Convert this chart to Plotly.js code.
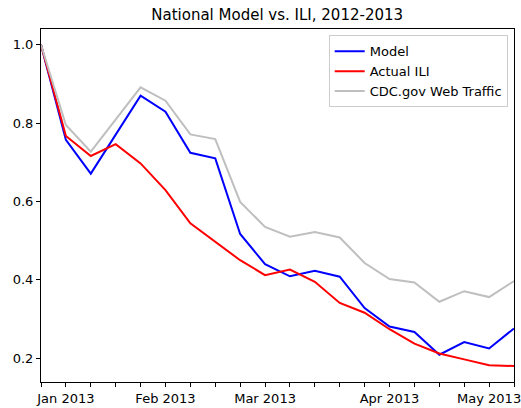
<!DOCTYPE html>
<html>
<head>
<meta charset="utf-8">
<script src="https://cdn.plot.ly/plotly-3.0.1.min.js"></script>
<style>html,body{margin:0;padding:0;background:#fff;}#chart{width:521px;height:408px;}</style>
</head>
<body>
<div id="chart"></div>
<script>
// Weekly dates (week ending Saturday)
const weeks = ["2012-12-29","2013-01-05","2013-01-12","2013-01-19","2013-01-26",
  "2013-02-02","2013-02-09","2013-02-16","2013-02-23","2013-03-02","2013-03-09",
  "2013-03-16","2013-03-23","2013-03-30","2013-04-06","2013-04-13","2013-04-20",
  "2013-04-27","2013-05-04","2013-05-11"];
const modelValues = [1.0,0.757,0.671,0.772,0.870,0.829,0.724,0.710,0.517,0.440,0.409,
  0.423,0.408,0.328,0.281,0.267,0.209,0.241,0.225,0.276];
const iliValues = [1.0,0.767,0.716,0.746,0.697,0.629,0.544,0.497,0.450,0.412,0.426,
  0.395,0.341,0.316,0.274,0.237,0.212,0.197,0.182,0.180];
const webValues = [1.0,0.795,0.727,0.809,0.891,0.857,0.771,0.759,0.599,0.535,0.510,
  0.522,0.508,0.443,0.402,0.393,0.344,0.371,0.356,0.397];
const tickLabels = ["","Jan 2013","","","","Feb 2013","","","","Mar 2013","","","","",
  "Apr 2013","","","","May 2013",""];
const seriesNames = ["Model","Actual ILI","CDC.gov Web Traffic"];

const font = {family: "DejaVu Sans, sans-serif", color: "#000"};
const traces = [
  {x: weeks, y: modelValues, name: seriesNames[0], mode: "lines", line: {color: "#0000ff", width: 2}},
  {x: weeks, y: iliValues, name: seriesNames[1], mode: "lines", line: {color: "#ff0000", width: 2}},
  {x: weeks, y: webValues, name: seriesNames[2], mode: "lines", line: {color: "#bfbfbf", width: 2}}
];
const layout = {
  width: 521, height: 408,
  margin: {l: 41, r: 7, t: 29, b: 26, pad: 0},
  paper_bgcolor: "#fff", plot_bgcolor: "#fff",
  font: Object.assign({size: 13}, font),
  title: {text: "National Model vs. ILI, 2012-2013", font: Object.assign({size: 15}, font),
    x: 0.532, xanchor: "center", y: 0.963, yref: "container", yanchor: "middle"},
  xaxis: {type: "date", range: [weeks[0], weeks[weeks.length-1]],
    tickmode: "array", tickvals: weeks, ticktext: tickLabels,
    ticklabeloverflow: "allow",
    showgrid: false, zeroline: false, showline: true, mirror: true, linecolor: "#000", linewidth: 1,
    ticks: "outside", ticklen: 4, tickcolor: "#000", tickwidth: 1,
    tickfont: Object.assign({size: 13}, font)},
  yaxis: {range: [0.1393, 1.040], tickvals: [0.2,0.4,0.6,0.8,1.0], ticktext: ["0.2","0.4","0.6","0.8","1.0"],
    tickmode: "array",
    showgrid: false, zeroline: false, showline: true, mirror: true, linecolor: "#000", linewidth: 1,
    ticks: "outside", ticklen: 4, tickcolor: "#000", tickwidth: 1,
    tickfont: Object.assign({size: 13}, font)},
  showlegend: true,
  legend: {x: 0.9867, xanchor: "right", y: 0.982, yanchor: "top",
    bgcolor: "#fff", bordercolor: "#ccc", borderwidth: 1,
    font: Object.assign({size: 13}, font), tracegroupgap: 0, itemwidth: 30}
};
Plotly.newPlot("chart", traces, layout, {staticPlot: true, displayModeBar: false});
</script>
</body>
</html>
